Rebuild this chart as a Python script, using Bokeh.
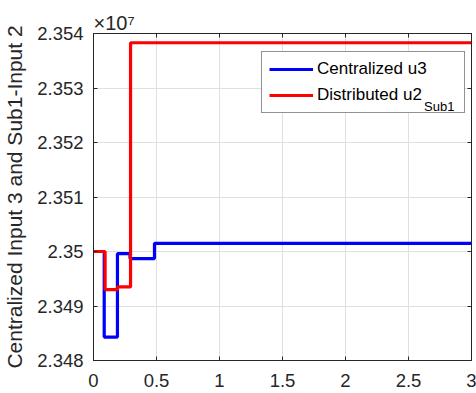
from bokeh.plotting import figure
from bokeh.models import (Range1d, FixedTicker, CustomJSTickFormatter, LinearAxis,
                          Legend, LegendItem)
from bokeh.embed import file_html
from bokeh.resources import INLINE

# ---- data ----
t_central = [0, 0.085, 0.085, 0.19, 0.19, 0.29, 0.29, 0.484, 0.484, 3]
u3_central = [23500000, 23500000, 23484300, 23484300, 23499600, 23499600,
              23498700, 23498700, 23501500, 23501500]
t_distrib = [0, 0.092, 0.092, 0.19, 0.19, 0.294, 0.294, 3]
u2_distrib = [23500000, 23500000, 23493000, 23493000, 23493500, 23493500,
              23538300, 23538300]
x_ticks = [0, 0.5, 1, 1.5, 2, 2.5, 3]
y_ticks = [23480000, 23490000, 23500000, 23510000, 23520000, 23530000, 23540000]
y_label = "Centralized Input 3 and Sub1-Input 2"
series_names = ["Centralized u3", "Distributed u2"]
subscript_text = "Sub1"
exponent_text = "×10⁷"

FONT = "Liberation Sans"
DARK = "#262626"

p = figure(width=476, height=393, output_backend="svg", toolbar_location=None,
           x_range=Range1d(0, 3), y_range=Range1d(23480000, 23540000),
           min_border_left=93, min_border_right=5, min_border_top=33,
           min_border_bottom=33)
p.background_fill_color = "white"
p.border_fill_color = "white"
p.outline_line_color = DARK
p.outline_line_width = 1

xfmt = CustomJSTickFormatter(code="return String(Math.round(tick*10)/10);")
yfmt = CustomJSTickFormatter(code="return String(parseFloat((tick/1e7).toFixed(3)));")

for ax, ticks, fmt in ((p.xaxis[0], x_ticks, xfmt), (p.yaxis[0], y_ticks, yfmt)):
    ax.ticker = FixedTicker(ticks=ticks)
    ax.formatter = fmt
    ax.major_tick_in = 4
    ax.major_tick_out = 0
    ax.minor_tick_line_color = None
    ax.axis_line_color = DARK
    ax.major_tick_line_color = DARK
    ax.major_label_text_font = FONT
    ax.major_label_text_font_size = "18.5px"
    ax.major_label_text_color = DARK
p.yaxis[0].major_label_standoff = 10
p.xaxis[0].major_label_standoff = 13

p.yaxis[0].axis_label = y_label
p.yaxis[0].axis_label_text_font = FONT
p.yaxis[0].axis_label_text_font_size = "21px"
p.yaxis[0].axis_label_text_font_style = "normal"
p.yaxis[0].axis_label_text_color = DARK
p.yaxis[0].axis_label_standoff = 8

# top / right axes for box ticks (no labels)
for loc, ticks in (("above", x_ticks), ("right", y_ticks)):
    a = LinearAxis(ticker=FixedTicker(ticks=ticks), major_tick_in=4, major_tick_out=0,
                   minor_tick_line_color=None, axis_line_color=DARK,
                   major_tick_line_color=DARK, major_label_text_font_size="1px",
                   major_label_text_color=None, major_label_standoff=0)
    p.add_layout(a, loc)

# exponent marker as title
p.title.text = exponent_text
p.title.align = "left"
p.title.text_font = FONT
p.title.text_font_size = "20px"
p.title.text_font_style = "normal"
p.title.text_color = DARK
p.title.standoff = 0
p.title.offset = 0

p.xgrid.ticker = FixedTicker(ticks=x_ticks)
p.ygrid.ticker = FixedTicker(ticks=y_ticks)
p.grid.grid_line_color = "#dfdfdf"
p.grid.grid_line_width = 1

r1 = p.line(t_central, u3_central, line_color="#0000ff", line_width=3.2)
r2 = p.line(t_distrib, u2_distrib, line_color="#ff0000", line_width=3.2)

legend = Legend(items=[LegendItem(label=series_names[0], renderers=[r1]),
                       LegendItem(label=series_names[1], renderers=[r2])],
                location=(168, 247), padding=7, spacing=6, margin=0,
                glyph_width=44, glyph_height=20, label_height=20, label_standoff=4,
                label_width=140, label_text_font=FONT, label_text_font_size="17px",
                label_text_color="black", border_line_color=DARK, border_line_width=1,
                background_fill_color="white", background_fill_alpha=1)
p.add_layout(legend, "center")

# subscript of the second legend entry, drawn as a glyph-less legend on top
sub_legend = Legend(items=[LegendItem(label=subscript_text, renderers=[r2])],
                    location=(331, 246), padding=0, spacing=0, margin=0,
                    glyph_width=0, glyph_height=1, label_height=1, label_width=0,
                    label_standoff=0, label_text_font=FONT, label_text_font_size="13px",
                    label_text_color="black", border_line_color=None,
                    background_fill_alpha=0)
p.add_layout(sub_legend, "center")

open("out.html", "w").write(file_html(p, INLINE))
